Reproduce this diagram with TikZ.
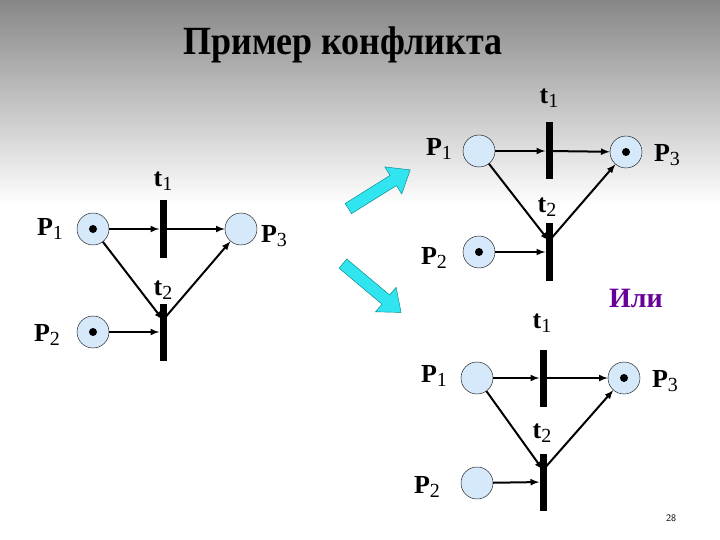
\documentclass[tikz,border=0pt]{standalone}
\usepackage{fontspec}
\setmainfont{Liberation Serif}
\newcommand{\sbs}[1]{{\mdseries\raisebox{-4pt}{\fontsize{20}{22}\selectfont #1}}}
\begin{document}
\begin{tikzpicture}[x=1pt,y=-1pt,
  place/.style={circle,draw=black,thin,fill=placeblue,minimum size=32pt,inner sep=0pt},
  bar/.style={rectangle,fill=black,minimum width=7pt,minimum height=57pt,inner sep=0pt},
  tok/.style={circle,fill=black,minimum size=8pt,inner sep=0pt},
  lab/.style={font=\bfseries\fontsize{26}{28}\selectfont,inner sep=0pt},
  arc/.style={-latex,line width=2pt},
  blk/.style={fill=arrowcyan,draw=teal,line width=0.4pt}]
\definecolor{placeblue}{HTML}{D6E9FA}
\definecolor{arrowcyan}{HTML}{30E4F0}
\useasboundingbox (0,0) rectangle (720,540);
\fill[white] (0,0) rectangle (720,540);
\shade[top color=black!47,bottom color=white] (0,0) rectangle (720,205);
\node[font=\bfseries\fontsize{40}{42}\selectfont,xscale=0.9] (title) at (343,45) {Пример конфликта};
% left net
\node[place] (a1) at (93,229) {}; \node[tok] at (a1) {};
\node[place] (a2) at (93,332) {}; \node[tok] at (a2) {};
\node[place] (a3) at (241,229) {};
\node[bar] (at1) at (163,229) {};
\node[bar] (at2) at (163,332) {};
\node[lab] (la1) at (50,229) {P\sbs{1}};
\node[lab] (la2) at (47,335) {P\sbs{2}};
\node[lab] (la3) at (274,236) {P\sbs{3}};
\node[lab] (lt1) at (163,181) {t\sbs{1}};
\node[lab] (lt2) at (163,290) {t\sbs{2}};
\coordinate (at2in) at (163,320);
\draw[arc] (a1) -- (at1);
\draw[arc] (at1) -- (a3);
\draw[arc] (a1) -- (at2in);
\draw[arc] (a2) -- (at2);
\draw[arc] (at2in) -- (a3);
% arrows
\begin{scope}[shift={(378,190)},rotate=32]
\fill[blk] (-35,-6) -- (18,-6) -- (18,-16) -- (38,0) -- (18,16) -- (18,6) -- (-35,6) -- cycle;
\end{scope}
\begin{scope}[shift={(372,288)},rotate=-40]
\fill[blk] (-38,-6) -- (18,-6) -- (18,-16) -- (38,0) -- (18,16) -- (18,6) -- (-38,6) -- cycle;
\end{scope}
% top right net
\node[place] (b1) at (479,151) {};
\node[place] (b2) at (479,252) {}; \node[tok] at (b2) {};
\node[place] (b3) at (626,152) {}; \node[tok] at (b3) {};
\node[bar] (bt1) at (549,151) {};
\node[bar] (bt2) at (549,252) {};
\node[lab] (lb1) at (439,149) {P\sbs{1}};
\node[lab] (lb2) at (434,258) {P\sbs{2}};
\node[lab] (lb3) at (667,155) {P\sbs{3}};
\node[lab] (lbt1) at (549,98) {t\sbs{1}};
\node[lab] (lbt2) at (547,207) {t\sbs{2}};
\coordinate (bt2in) at (549,241);
\draw[arc] (b1) -- (bt1);
\draw[arc] (bt1) -- (b3);
\draw[arc] (b1) -- (bt2in);
\draw[arc] (b2) -- (bt2);
\draw[arc] (bt2in) -- (b3);
\node[font=\bfseries\fontsize{28}{30}\selectfont,text=violet!80!blue] (ili) at (636,298) {Или};
% bottom right net
\node[place] (c1) at (477,378) {};
\node[place] (c2) at (477,483) {};
\node[place] (c3) at (624,378) {}; \node[tok] at (c3) {};
\node[bar] (ct1) at (543,378) {};
\node[bar] (ct2) at (543,482) {};
\node[lab] (lc1) at (434,376) {P\sbs{1}};
\node[lab] (lc2) at (427,487) {P\sbs{2}};
\node[lab] (lc3) at (665,381) {P\sbs{3}};
\node[lab] (lct1) at (542,323) {t\sbs{1}};
\node[lab] (lct2) at (542,433) {t\sbs{2}};
\coordinate (ct2in) at (543,470);
\draw[arc] (c1) -- (ct1);
\draw[arc] (ct1) -- (c3);
\draw[arc] (c1) -- (ct2in);
\draw[arc] (c2) -- (ct2);
\draw[arc] (ct2in) -- (c3);
\node[font=\sffamily\fontsize{10}{12}\selectfont] (pg) at (671,518) {28};
\end{tikzpicture}
\end{document}
